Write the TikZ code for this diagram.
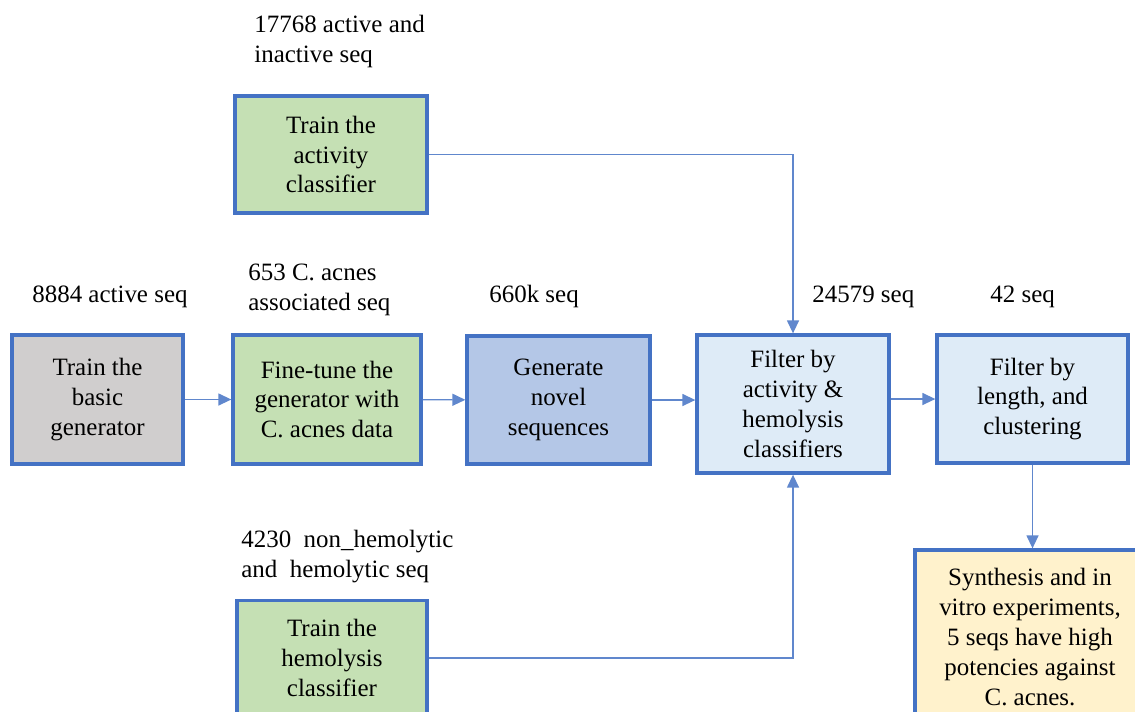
\documentclass[tikz,border=0pt]{standalone}
\usepackage{fontspec}
\setmainfont{Liberation Serif}
\usetikzlibrary{positioning,arrows.meta}
\definecolor{edgeblue}{HTML}{4472C4}
\definecolor{greyfill}{HTML}{D0CECE}
\definecolor{greenfill}{HTML}{C5E0B4}
\definecolor{bluefill}{HTML}{B4C7E7}
\definecolor{paleblue}{HTML}{DEEBF7}
\definecolor{creamfill}{HTML}{FFF2CC}

\begin{document}
\begin{tikzpicture}[
     x=0.02cm, y=-0.02cm,
     % define styles
     box/.style={
         draw=edgeblue,
         line width=1.9pt,
         align=center,
         inner sep=2pt,
         font=\fontsize{14.2}{17}\selectfont
     },
     count/.style={
         align=left,
         inner sep=0pt,
         anchor=base west,
         font=\fontsize{14.2}{16.8}\selectfont
     },
     link/.style={
         draw=edgeblue!85,
         line width=0.8pt,
         ->
     },
     >={Triangle[length=2.6mm,width=2.4mm]}
]
\useasboundingbox (0,0) rectangle (1135,711);

% main row of steps
\node[box, fill=greyfill, minimum width=3.42cm, minimum height=2.58cm] (basic) at (97.5,399.5) {Train the\\basic\\generator};
\node[box, fill=greenfill, minimum width=3.76cm, minimum height=2.58cm] (finetune) at (327,399.5) {Fine-tune the\\generator with\\C. acnes data};
\node[box, fill=bluefill, minimum width=3.66cm, minimum height=2.56cm] (generate) at (558.5,400) {Generate\\novel\\sequences};
\node[box, fill=paleblue, minimum width=3.84cm, minimum height=2.76cm] (filterclf) at (793,404) {Filter by\\activity \&\\hemolysis\\classifiers};
\node[box, fill=paleblue, minimum width=3.82cm, minimum height=2.56cm] (filterlen) at (1032.5,399) {Filter by\\length, and\\clustering};
\node[box, fill=creamfill, minimum width=4.6cm, minimum height=3.48cm] (synth) at (1030,637) {Synthesis and in\\vitro experiments,\\5 seqs have high\\potencies against\\C. acnes.};

% classifiers
\node[box, fill=greenfill, minimum width=3.84cm, minimum height=2.34cm] (activity) at (331,154.5) {Train the\\activity\\classifier};
\node[box, fill=greenfill, minimum width=3.8cm, minimum height=2.3cm] (hemolysis) at (332,658) {Train the\\hemolysis\\classifier};

% sequence counts (base = last line)
\node[count] (cntact) at (254,62) {17768 active and\\inactive seq};
\node[count] (cntbasic) at (32,302) {8884 active seq};
\node[count] (cntacnes) at (248,310) {653 C. acnes\\associated seq};
\node[count] (cntgen) at (489,302) {660k seq};
\node[count] (cntclf) at (812,302) {24579 seq};
\node[count] (cntlen) at (990,302) {42 seq};
\node[count] (cnthem) at (241,577) {4230~ non\_hemolytic\\and~ hemolytic seq};

\draw[link] (basic) -- (finetune);
\draw[link] (finetune) -- (generate);
\draw[link] (generate.east) -- (generate.east -| filterclf.west);
\draw[link] (filterclf.east |- filterlen.west) -- (filterlen.west);
\draw[link] (activity.east) -| (filterclf.north);
\draw[link] (hemolysis.east) -| (filterclf.south);
\draw[link] (filterlen.south) -- (filterlen.south |- synth.north);
\end{tikzpicture}
\end{document}
